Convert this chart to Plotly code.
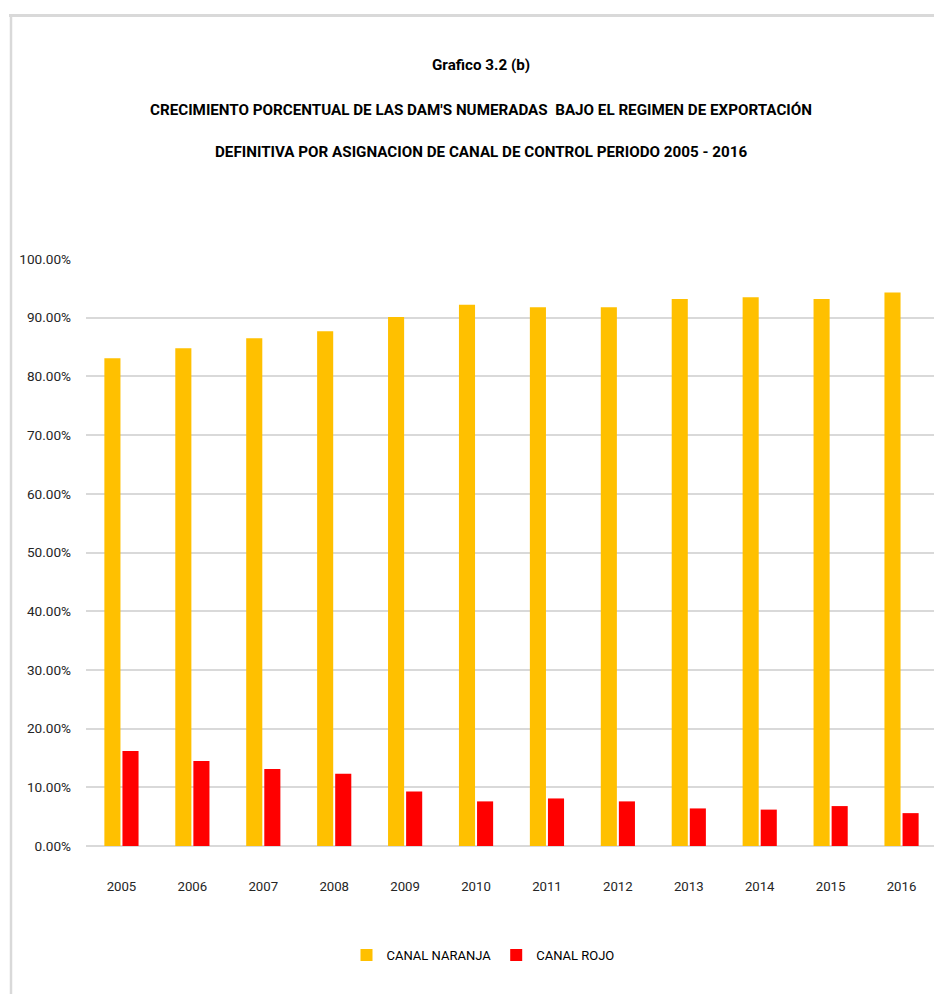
import plotly.graph_objects as go

years = ["2005", "2006", "2007", "2008", "2009", "2010", "2011", "2012", "2013", "2014", "2015", "2016"]
canal_naranja = [83.1, 84.8, 86.5, 87.7, 90.1, 92.2, 91.8, 91.8, 93.2, 93.5, 93.2, 94.3]
canal_rojo = [16.2, 14.5, 13.1, 12.3, 9.3, 7.6, 8.1, 7.6, 6.4, 6.2, 6.8, 5.6]
y_ticks = [0, 10, 20, 30, 40, 50, 60, 70, 80, 90, 100]
y_tick_labels = ["%.2f%%" % v for v in y_ticks]

FONT = "Roboto, Liberation Sans, sans-serif"
OFF = 8  # page body margin
W, H = 942 - OFF, 994 - OFF
L, R, T, B = 86 - OFF, 5, 259 - OFF, 148
pw, ph = W - L - R, H - T - B

def px_x(x):
    return (x - OFF - L) / pw

def px_y(y):
    return (H - B - (y - OFF)) / ph

fig = go.Figure()
fig.add_trace(go.Bar(x=years, y=canal_naranja, name="CANAL NARANJA",
                     marker=dict(color="#FFC000", line=dict(width=0))))
fig.add_trace(go.Bar(x=years, y=canal_rojo, name="CANAL ROJO",
                     marker=dict(color="#FF0000", line=dict(width=0))))

title_lines = [
    ("Grafico 3.2 (b)", 65),
    ("CRECIMIENTO PORCENTUAL DE LAS DAM'S NUMERADAS  BAJO EL REGIMEN DE EXPORTACIÓN", 110),
    ("DEFINITIVA POR ASIGNACION DE CANAL DE CONTROL PERIODO 2005 - 2016", 152),
]
annotations = []
for text, ypix in title_lines:
    annotations.append(dict(text="<b>%s</b>" % text, x=px_x(481), y=px_y(ypix),
                            xref="paper", yref="paper", showarrow=False,
                            xanchor="center", yanchor="middle",
                            font=dict(family=FONT, size=15.2, color="#000000")))

shapes = [
    dict(type="line", xref="paper", yref="paper", x0=px_x(9), x1=px_x(942),
         y0=px_y(15.5), y1=px_y(15.5), line=dict(color="#D9D9D9", width=3)),
    dict(type="line", xref="paper", yref="paper", x0=px_x(11), x1=px_x(11),
         y0=px_y(14), y1=px_y(994), line=dict(color="#D9D9D9", width=2.5)),
]

fig.update_layout(
    width=W, height=H,
    margin=dict(l=L, r=R, t=T, b=B, pad=0),
    paper_bgcolor="white", plot_bgcolor="white",
    barmode="group", bargap=0.49, bargroupgap=0.11,
    font=dict(family=FONT, color="#262626"),
    annotations=annotations,
    shapes=shapes,
    showlegend=True,
    legend=dict(orientation="h", x=px_x(483), y=px_y(955), xanchor="center",
                yanchor="middle", font=dict(family=FONT, size=13, color="#000000"),
                itemwidth=30, traceorder="normal"),
    xaxis=dict(showgrid=False, showline=False, ticks="", zeroline=False,
               tickfont=dict(family=FONT, size=13.2, color="#262626"), ticklabelstandoff=31),
    yaxis=dict(range=[0, 100], tickvals=y_ticks, ticktext=y_tick_labels,
               showgrid=True, gridcolor="#D9D9D9", gridwidth=1.5,
               zeroline=True, zerolinecolor="#D9D9D9", zerolinewidth=1.5,
               showline=False, ticks="", ticklabelstandoff=14,
               tickfont=dict(family=FONT, size=13.6, color="#262626")),
)

fig.write_html("out.html")
